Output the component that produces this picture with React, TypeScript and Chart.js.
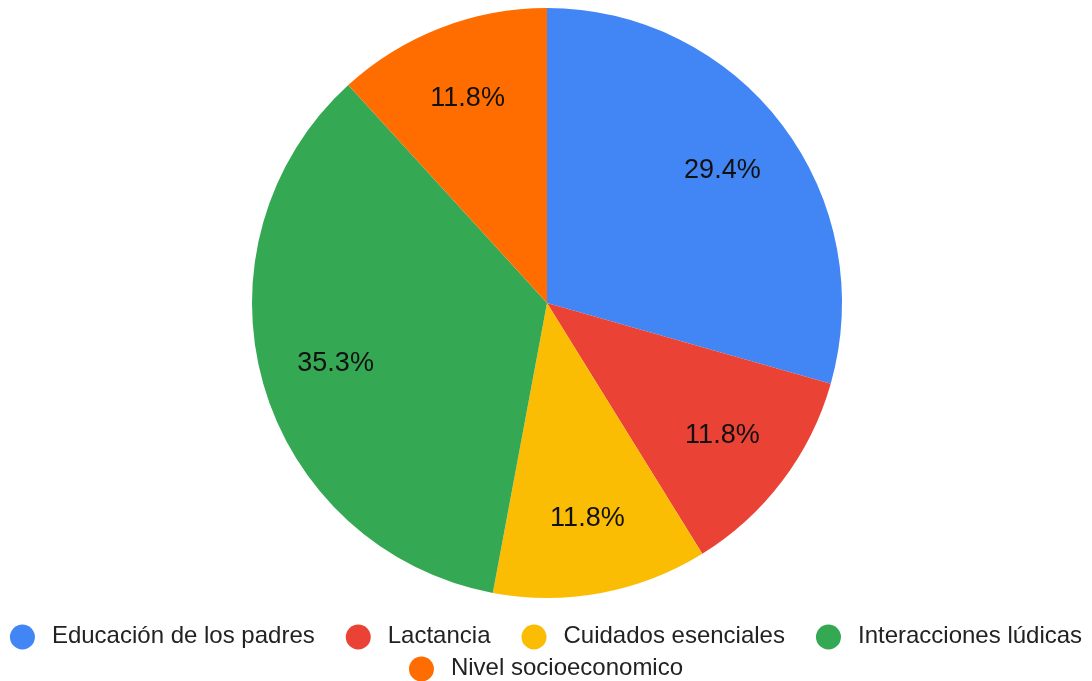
import React, { useEffect, useRef } from "react";
import { Chart, registerables } from "chart.js";

Chart.register(...registerables);

const categories = [
  "Educación de los padres",
  "Lactancia",
  "Cuidados esenciales",
  "Interacciones lúdicas",
  "Nivel socioeconomico",
];
const values = [5, 2, 2, 6, 2];
const colors = ["#4285F4", "#EA4335", "#FBBC04", "#34A853", "#FF6D01"];

const FONT = "Arial, 'Liberation Sans', sans-serif";

const sliceLabels = {
  id: "sliceLabels",
  afterDatasetsDraw(chart: any) {
    const ctx = chart.ctx;
    const meta = chart.getDatasetMeta(0);
    const data = chart.data.datasets[0].data as number[];
    const total = data.reduce((a, b) => a + b, 0);
    ctx.save();
    ctx.font = `27px ${FONT}`;
    ctx.fillStyle = "#111111";
    ctx.textAlign = "center";
    ctx.textBaseline = "middle";
    meta.data.forEach((arc: any, i: number) => {
      const { x, y, startAngle, endAngle, outerRadius } = arc.getProps(
        ["x", "y", "startAngle", "endAngle", "outerRadius"],
        true
      );
      const mid = (startAngle + endAngle) / 2;
      const r = outerRadius * 0.745;
      const pct = ((data[i] / total) * 100).toFixed(1) + "%";
      ctx.fillText(pct, x + Math.cos(mid) * r, y + Math.sin(mid) * r);
    });
    ctx.restore();
  },
};

const customLegend = {
  id: "customLegend",
  afterDraw(chart: any) {
    const ctx = chart.ctx;
    const width = chart.width;
    const dot = 25;
    const dotGap = 17;
    const itemGap = 31;
    const rows: number[][] = [[0, 1, 2, 3], [4]];
    const rowY = [636, 668];
    ctx.save();
    ctx.font = `24px ${FONT}`;
    ctx.textBaseline = "middle";
    ctx.textAlign = "left";
    rows.forEach((row, ri) => {
      const widths = row.map(
        (i) => dot + dotGap + ctx.measureText(categories[i]).width
      );
      const total =
        widths.reduce((a, b) => a + b, 0) + itemGap * (row.length - 1);
      let x = (width - total) / 2;
      const y = rowY[ri];
      row.forEach((i, k) => {
        ctx.fillStyle = colors[i];
        ctx.beginPath();
        ctx.arc(x + dot / 2, y + 1, dot / 2, 0, Math.PI * 2);
        ctx.fill();
        ctx.fillStyle = "#222222";
        ctx.fillText(categories[i], x + dot + dotGap, y);
        x += widths[k] + itemGap;
      });
    });
    ctx.restore();
  },
};

export default function App() {
  const ref = useRef<HTMLCanvasElement | null>(null);
  useEffect(() => {
    if (!ref.current) return;
    const chart = new Chart(ref.current, {
      type: "pie",
      data: {
        labels: categories,
        datasets: [
          {
            data: values,
            backgroundColor: colors,
            borderWidth: 0,
          },
        ],
      },
      options: {
        animation: false,
        responsive: false,
        maintainAspectRatio: false,
        layout: { padding: { top: 8, bottom: 83, left: 2, right: 0 } },
        plugins: {
          legend: { display: false },
          tooltip: { enabled: false },
        },
      },
      plugins: [sliceLabels, customLegend],
    });
    return () => chart.destroy();
  }, []);
  return (
    <div style={{ position: "fixed", left: 0, top: 0, width: 1092, height: 681, background: "#fff" }}>
      <canvas ref={ref} width={1092} height={681} style={{ width: 1092, height: 681 }} />
    </div>
  );
}
